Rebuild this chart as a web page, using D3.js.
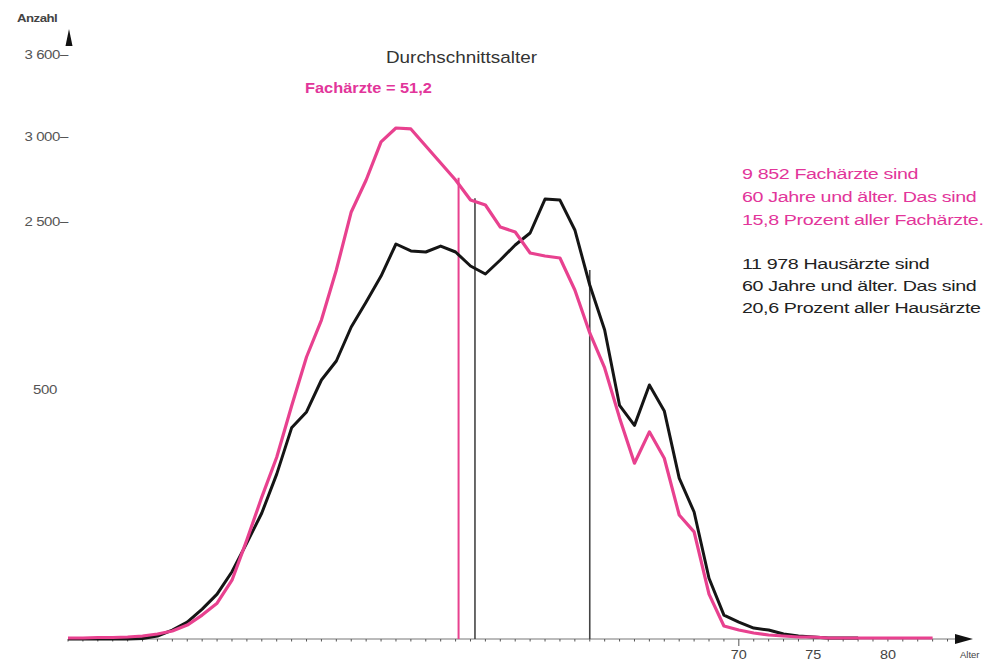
<!DOCTYPE html>
<html><head><meta charset="utf-8">
<script src="https://cdn.jsdelivr.net/npm/d3@7"></script>
<style>
html,body{margin:0;padding:0;background:#fff;}
svg{display:block;font-family:"Liberation Sans",Arial,sans-serif;}
</style></head>
<body>
<svg id="chart" width="983" height="664"></svg>
<script>
// ---- data ----
const ages = d3.range(25, 84);
const fachaerzte = [2,2,3,3,4,6,10,16,28,48,72,118,199,285,365,468,893,1333,1929,2559,2747,2971,3066,3059,2947,2847,2747,2629,2600,2440,2381,2131,2095,2071,1690,1179,762,444,353,416,363,249,215,90,26,18,12,8,6,4,4,2,2,2,2,2,2,2,2];
const hausaerzte = [0,0,0,0,0,1,6,18,34,60,90,135,193,253,331,424,456,619,845,1250,1548,1857,2238,2155,2143,2214,2143,1976,1881,2048,2226,2369,2635,2629,2405,1750,1214,469,429,560,458,323,255,122,48,34,22,18,10,6,4,2,2,2];
const markerAges = [51.2, 52.3, 60];
const markerTops = [2760, 2640, 1930];
const markerSeries = ["fach", "haus", "haus"];
const yTickValues = [3600, 3000, 2500, 500];
const yTickLabels = ["3 600–", "3 000–", "2 500–", "500"];
const xLabelValues = [70, 75, 80];
const fachText = ["9 852 Fachärzte sind", "60 Jahre und älter. Das sind", "15,8 Prozent aller Fachärzte."];
const hausText = ["11 978 Hausärzte sind", "60 Jahre und älter. Das sind", "20,6 Prozent aller Hausärzte"];

// ---- styles ----
const PINK = "#e8418f";
const PINKTXT = "#e2359a";
const BLACK = "#151515";

const svg = d3.select("#chart");
const x = d3.scaleLinear().domain([25, 84.3]).range([68, 952]);
const y = d3.scaleLinear().domain([0, 500, 2500, 3000, 3600]).range([639, 390, 222, 137, 55]);

// helper: horizontally stretched text
function stretched(sel, px, py, sx, anchor) {
  return sel.append("text")
    .attr("transform", `translate(${px},${py}) scale(${sx},1)`)
    .attr("text-anchor", anchor || "start");
}

// x axis
const g = svg.append("g");
g.append("line").attr("x1", 68).attr("x2", 958).attr("y1", y(0)).attr("y2", y(0))
  .attr("stroke", "#777").attr("stroke-width", 1);
g.append("path").attr("d", `M955,${y(0)-5} L973,${y(0)} L955,${y(0)+5} Z`).attr("fill", "#111");
g.selectAll(".xt").data(d3.range(25, 85)).join("line")
  .attr("x1", d => x(d)).attr("x2", d => x(d))
  .attr("y1", y(0)).attr("y2", d => y(0) + (d === 70 ? 7 : 2.5))
  .attr("stroke", "#555").attr("stroke-width", 1);
xLabelValues.forEach(v => {
  stretched(g, x(v), 659, 1.2, "middle").attr("font-size", 12).attr("fill", "#444").text(v);
});
g.append("text").attr("x", 960).attr("y", 658).attr("font-size", 9.5).attr("fill", "#444").text("Alter");

// y axis (labels + arrow only)
g.append("path").attr("d", "M69,29 L65.5,46 L72.5,46 Z").attr("fill", "#111");
stretched(g, 17, 22, 1.2).attr("font-size", 11).attr("font-weight", "bold")
  .attr("fill", "#444").attr("letter-spacing", -0.4).text("Anzahl");
yTickValues.forEach((v, i) => {
  stretched(g, i === 3 ? 57 : 68, y(v) + 4, 1.25, "end")
    .attr("font-size", 12).attr("fill", "#555").attr("letter-spacing", -0.3)
    .text(yTickLabels[i]);
});

// lines
const line = d3.line().x(d => x(d[0])).y(d => y(d[1]));
const hausPts = hausaerzte.map((v, i) => [ages[i], v]);
const fachPts = fachaerzte.map((v, i) => [ages[i], v]);

// vertical markers
svg.selectAll(".mk").data(markerAges).join("line")
  .attr("x1", d => x(d)).attr("x2", d => x(d))
  .attr("y1", y(0)).attr("y2", (d, i) => y(markerTops[i]))
  .attr("stroke", (d, i) => markerSeries[i] === "fach" ? PINK : "#444")
  .attr("stroke-width", (d, i) => markerSeries[i] === "fach" ? 2 : 1.6);

svg.append("path").attr("d", line(hausPts)).attr("fill", "none")
  .attr("stroke", BLACK).attr("stroke-width", 3).attr("stroke-linejoin", "round");
svg.append("path").attr("d", line(fachPts)).attr("fill", "none")
  .attr("stroke", PINK).attr("stroke-width", 3.2).attr("stroke-linejoin", "round");

// titles
stretched(svg, 386, 63, 1.18).attr("font-size", 16).attr("fill", "#333").text("Durchschnittsalter");
stretched(svg, 305, 93, 1.17).attr("font-size", 14).attr("font-weight", "bold")
  .attr("fill", PINKTXT).text("Fachärzte = 51,2");

// annotations
fachText.forEach((t, i) => {
  stretched(svg, 742, 179 + i * 23, 1.27).attr("font-size", 15.5)
    .attr("fill", PINKTXT).attr("letter-spacing", -0.3).text(t);
});
hausText.forEach((t, i) => {
  stretched(svg, 742, 269 + i * 22, 1.27).attr("font-size", 15.5)
    .attr("fill", "#222").attr("letter-spacing", -0.3).text(t);
});
</script>
</body></html>
